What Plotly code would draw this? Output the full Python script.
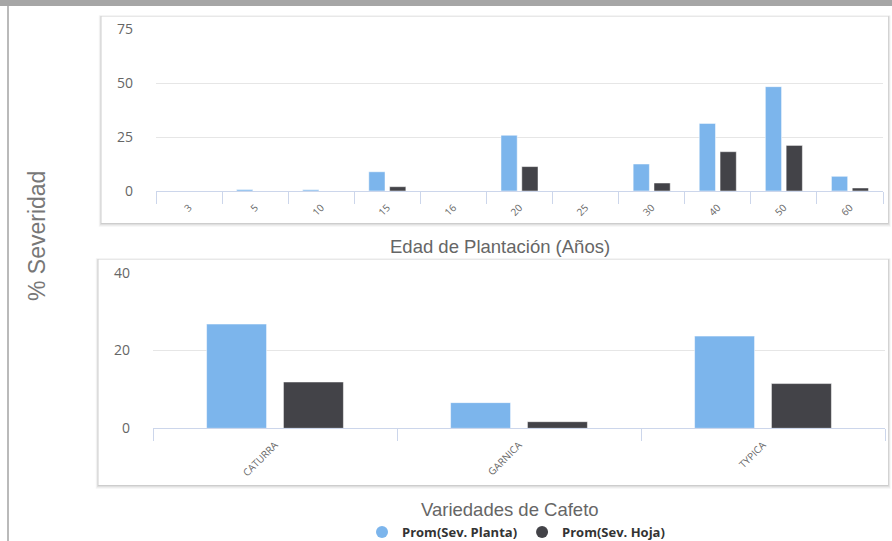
import plotly.graph_objects as go

# ---- data ----
edades = ['3', '5', '10', '15', '16', '20', '25', '30', '40', '50', '60']
planta_edad = [0, 0.7, 0.6, 8.9, 0, 25.8, 0, 12.5, 31.3, 48.3, 6.8]
hoja_edad = [0, 0, 0, 2.0, 0, 11.3, 0, 3.7, 18.2, 21.1, 1.4]

variedades = ['CATURRA', 'GARNICA', 'TYPICA']
planta_var = [26.8, 6.6, 23.7]
hoja_var = [11.9, 1.7, 11.5]

ticks_edad = [0, 25, 50, 75]
ticks_var = [0, 20, 40]

serie_planta = 'Prom(Sev. Planta)'
serie_hoja = 'Prom(Sev. Hoja)'

# ---- style ----
W, H = 892, 541
BLUE = '#7cb5ec'
DARK = '#434348'
GRID = '#e6e6e6'
AXIS = '#ccd6eb'
FONT = 'Open Sans, Liberation Sans, Arial'


def px(x):
    return x / W


def py(y):
    return 1 - y / H


fig = go.Figure()

fig.add_trace(go.Bar(x=edades, y=planta_edad, name=serie_planta, marker=dict(color=BLUE, line=dict(color='white', width=0.5)),
                     xaxis='x', yaxis='y', showlegend=False))
fig.add_trace(go.Bar(x=edades, y=hoja_edad, name=serie_hoja, marker=dict(color=DARK, line=dict(color='white', width=0.5)),
                     xaxis='x', yaxis='y', showlegend=False))
fig.add_trace(go.Bar(x=variedades, y=planta_var, name=serie_planta, marker=dict(color=BLUE, line=dict(color='white', width=0.5)),
                     xaxis='x2', yaxis='y2', showlegend=False))
fig.add_trace(go.Bar(x=variedades, y=hoja_var, name=serie_hoja, marker=dict(color=DARK, line=dict(color='white', width=0.5)),
                     xaxis='x2', yaxis='y2', showlegend=False))

# legend entries with circle symbols
fig.add_trace(go.Scatter(x=[None], y=[None], mode='markers', name=serie_planta,
                         marker=dict(color=BLUE, size=12, symbol='circle'), xaxis='x2', yaxis='y2'))
fig.add_trace(go.Scatter(x=[None], y=[None], mode='markers', name=serie_hoja,
                         marker=dict(color=DARK, size=12, symbol='circle'), xaxis='x2', yaxis='y2'))

xcommon = dict(type='category', tickson='boundaries', ticks='outside', ticklen=12, tickcolor=AXIS,
               tickwidth=1, showline=True, linecolor=AXIS, linewidth=1, tickangle=-45,
               showgrid=False, zeroline=False, fixedrange=True, automargin=False,
               ticklabelstandoff=6, tickfont=dict(size=10, color='#666', family=FONT))
ycommon = dict(gridcolor=GRID, gridwidth=1, showline=False, zeroline=False, ticks='',
               tickfont=dict(size=14, color='#666', family=FONT), fixedrange=True, automargin=False)

shapes = []


def panel(x0, y0, x1, y1):
    for d, op in [(4, 0.03), (3, 0.04), (2, 0.06), (1, 0.08)]:
        shapes.append(dict(type='rect', xref='paper', yref='paper', layer='below',
                           x0=px(x0 - d * 0.7), x1=px(x1 + d * 0.7), y0=py(y1 + d), y1=py(y0 - d * 0.3),
                           fillcolor='rgba(0,0,0,%g)' % op, line=dict(width=0)))
    shapes.append(dict(type='rect', xref='paper', yref='paper', layer='below',
                       x0=px(x0), x1=px(x1), y0=py(y1), y1=py(y0),
                       fillcolor='white', line=dict(width=0)))


panel(101.5, 16.5, 888, 223)
panel(98.5, 259.5, 888, 485)

# header bar and left rule
shapes.append(dict(type='rect', xref='paper', yref='paper', layer='above',
                   x0=0, x1=1, y0=py(6), y1=1, fillcolor='#a6a6a6', line=dict(width=0)))
shapes.append(dict(type='line', xref='paper', yref='paper', layer='above',
                   x0=px(8), x1=px(8), y0=0, y1=py(6), line=dict(color='#a3a3a3', width=1.5)))

fig.update_layout(
    width=W, height=H,
    margin=dict(l=0, r=0, t=0, b=0, pad=0, autoexpand=False),
    paper_bgcolor='white', plot_bgcolor='rgba(0,0,0,0)',
    barmode='group', bargap=0.37, bargroupgap=0.22,
    font=dict(family=FONT, color='#666'),
    xaxis=dict(domain=[px(156), px(883)], anchor='y', **xcommon),
    yaxis=dict(domain=[py(191), py(29)], anchor='x', range=[0, 75], tickvals=ticks_edad,
               ticklabelstandoff=22, **ycommon),
    xaxis2=dict(domain=[px(153), px(885)], anchor='y2', **xcommon),
    yaxis2=dict(domain=[py(428.3), py(272.7)], anchor='x2', range=[0, 40], tickvals=ticks_var,
                ticklabelstandoff=22, **ycommon),
    shapes=shapes,
    showlegend=True,
    legend=dict(orientation='h', x=px(362), y=py(532), xanchor='left', yanchor='middle',
                font=dict(size=13, color='#333', family=FONT, weight='bold'),
                bgcolor='rgba(0,0,0,0)', itemwidth=30),
    annotations=[
        dict(text='Edad de Plantación (Años)', x=px(500), y=py(246), xref='paper', yref='paper',
             xanchor='center', yanchor='middle',
             showarrow=False, font=dict(size=18.5, color='#666', family='Liberation Sans, Arial')),
        dict(text='Variedades de Cafeto', x=px(510), y=py(509), xref='paper', yref='paper',
             xanchor='center', yanchor='middle',
             showarrow=False, font=dict(size=18.5, color='#666', family='Liberation Sans, Arial')),
        dict(text='% Severidad', x=px(37), y=py(236), xref='paper', yref='paper', textangle=-90,
             xanchor='center', yanchor='middle',
             showarrow=False, font=dict(size=23, color='#777', family='Liberation Sans, Arial')),
    ],
)

fig.write_html('out.html', config={'displayModeBar': False},
               post_script="document.body.style.margin='0';document.body.style.overflow='hidden';")
